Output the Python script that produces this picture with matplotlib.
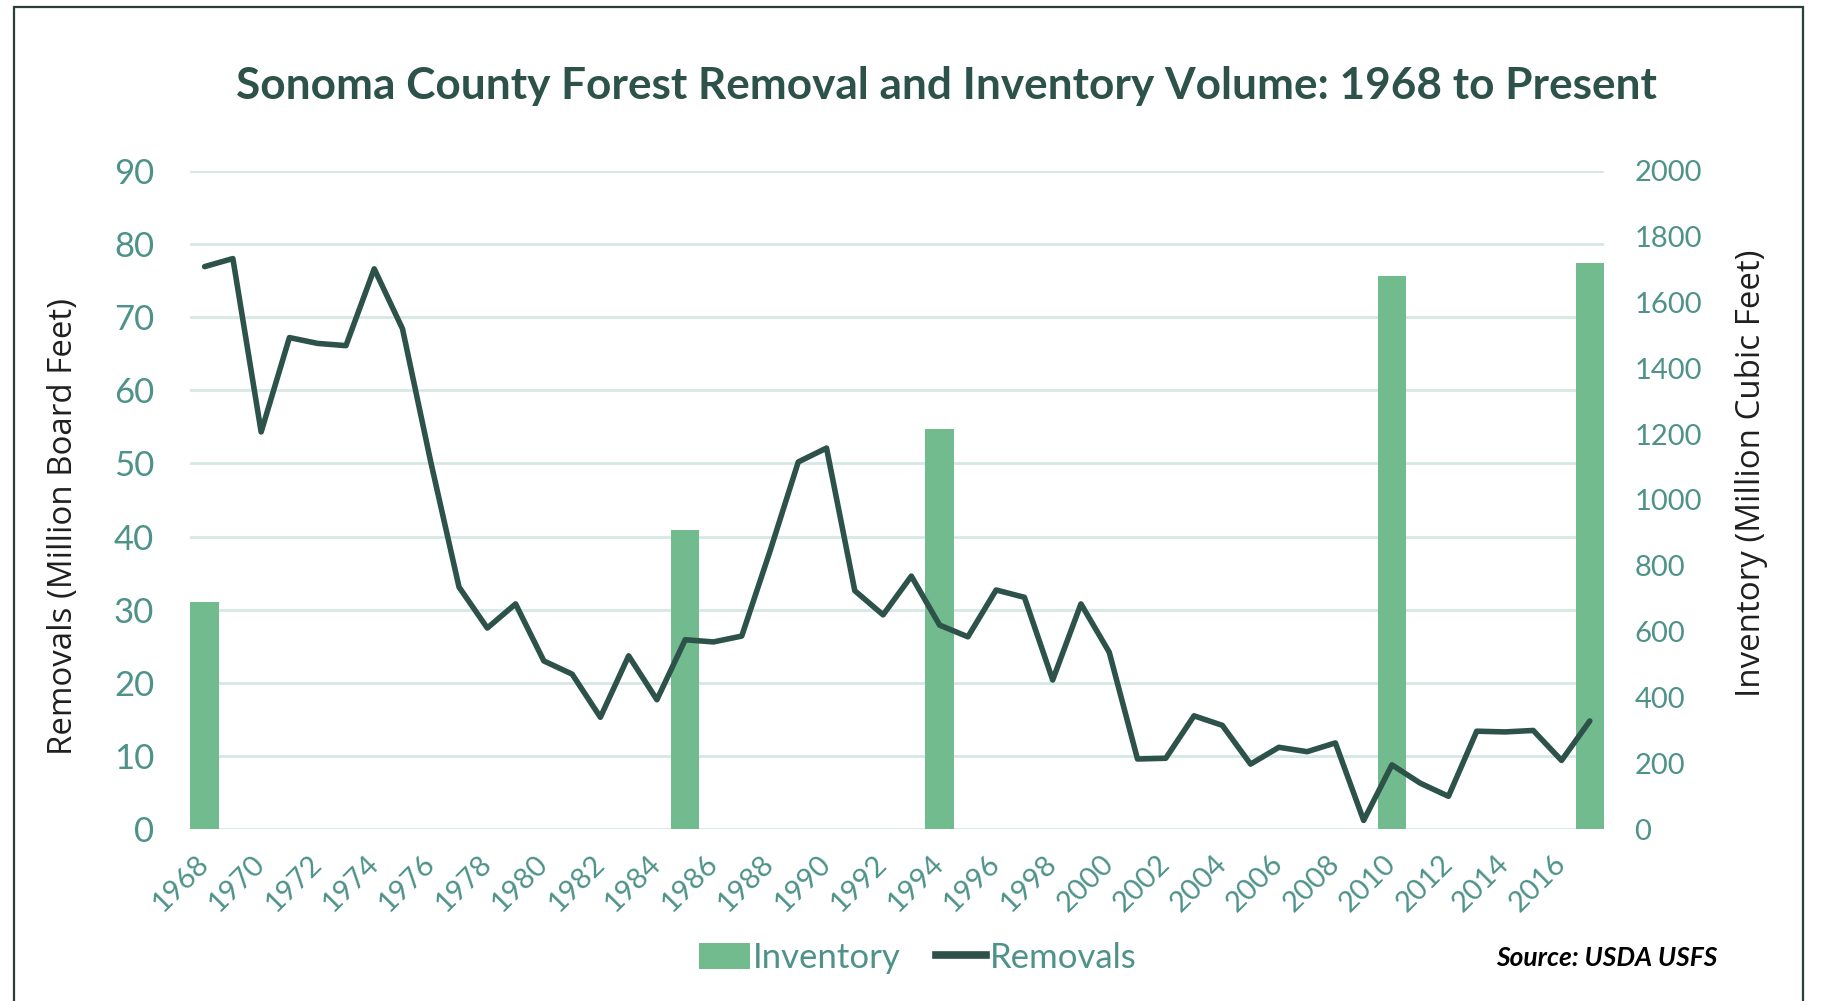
import numpy as np
import matplotlib
matplotlib.use('Agg')
import matplotlib.pyplot as plt
from matplotlib.patches import Rectangle, Patch
from matplotlib.lines import Line2D

years = np.arange(1968, 2018)
removals = [76.9, 78.0, 54.3, 67.2, 66.4, 66.1, 76.6, 68.4, 50.2, 33.1,
            27.5, 30.8, 23.0, 21.2, 15.3, 23.7, 17.7, 25.9, 25.6, 26.4,
            38.0, 50.2, 52.1, 32.6, 29.3, 34.6, 27.9, 26.3, 32.7, 31.7,
            20.4, 30.8, 24.2, 9.6, 9.7, 15.5, 14.2, 8.9, 11.2, 10.6,
            11.8, 1.2, 8.8, 6.3, 4.5, 13.4, 13.3, 13.5, 9.4, 14.8]
inventory_years = [1968, 1985, 1994, 2010, 2017]
inventory = [690, 910, 1215, 1680, 1720]
tick_years = np.arange(1968, 2017, 2)

bar_color = '#72bb8f'
line_color = '#2d5249'
tick_color = '#4e9289'
grid_color = '#d6e8e4'

fig = plt.figure(figsize=(18.21, 10.01), dpi=100)
ax = fig.add_axes([0.1046, 0.1716, 0.7762, 0.6578])
ax2 = ax.twinx()
ax3 = ax.twinx()

# grid on the base axes, bars above it, line on top
ax.set_ylim(0, 90)
ax.set_yticks(np.arange(0, 91, 10))
ax.grid(axis='y', color=grid_color, linewidth=2)
ax.set_xlim(1967.5, 2017.5)

ax2.bar(inventory_years, inventory, width=1.0, color=bar_color)
ax2.set_ylim(0, 2000)
ax2.set_yticks(np.arange(0, 2001, 200))

ax3.plot(years, removals, color=line_color, linewidth=4, solid_joinstyle='round',
         solid_capstyle='round')
ax3.set_ylim(0, 90)
ax3.set_yticks([])

for a in (ax, ax2, ax3):
    for s in a.spines.values():
        s.set_visible(False)

ax.set_xticks(tick_years)
ax.set_xticklabels([str(y) for y in tick_years], rotation=45, ha='right', va='center',
                   rotation_mode='anchor', family='Lato', fontsize=21, color=tick_color)
ax.tick_params(axis='x', length=0, pad=22)
ax.tick_params(axis='y', length=0, pad=26, labelsize=25, labelcolor=tick_color)
ax2.tick_params(axis='y', length=0, pad=22, labelsize=21, labelcolor=tick_color)
for lab in ax.get_yticklabels() + ax2.get_yticklabels():
    lab.set_family('Lato')

fig.text(0.035, 0.4745, 'Removals (Million Board Feet)', rotation=90, ha='center',
         va='center', family='Open Sans', fontsize=23.8, color='#1f1f1f')
fig.text(0.9617, 0.527, 'Inventory (Million Cubic Feet)', rotation=90, ha='center',
         va='center', family='Open Sans', fontsize=23.8, color='#1f1f1f')

fig.text(0.52, 0.914, 'Sonoma County Forest Removal and Inventory Volume: 1968 to Present',
         ha='center', va='center', family='Lato', fontweight='bold', fontsize=31.8,
         color=line_color)

handles = [Patch(facecolor=bar_color, label='Inventory'),
           Line2D([0], [0], color=line_color, linewidth=5.5, label='Removals')]
leg = fig.legend(handles=handles, loc='center', bbox_to_anchor=(0.504, 0.043), ncol=2,
                 frameon=False, handlelength=1.45, handleheight=0.8, handletextpad=0.1,
                 columnspacing=1.0, prop={'family': 'Lato', 'size': 25})
for t in leg.get_texts():
    t.set_color(tick_color)

fig.text(0.943, 0.043, 'Source: USDA USFS', ha='right', va='center', family='Lato',
         fontweight='bold', style='italic', fontsize=19, color='black')

fig.patches.append(Rectangle((14 / 1821, -0.02), (1803 - 14) / 1821, 1.02 - 7 / 1001,
                             transform=fig.transFigure, fill=False,
                             edgecolor='#2b3f3a', linewidth=1.6, clip_on=False))

fig.savefig('out.png', dpi=100)
